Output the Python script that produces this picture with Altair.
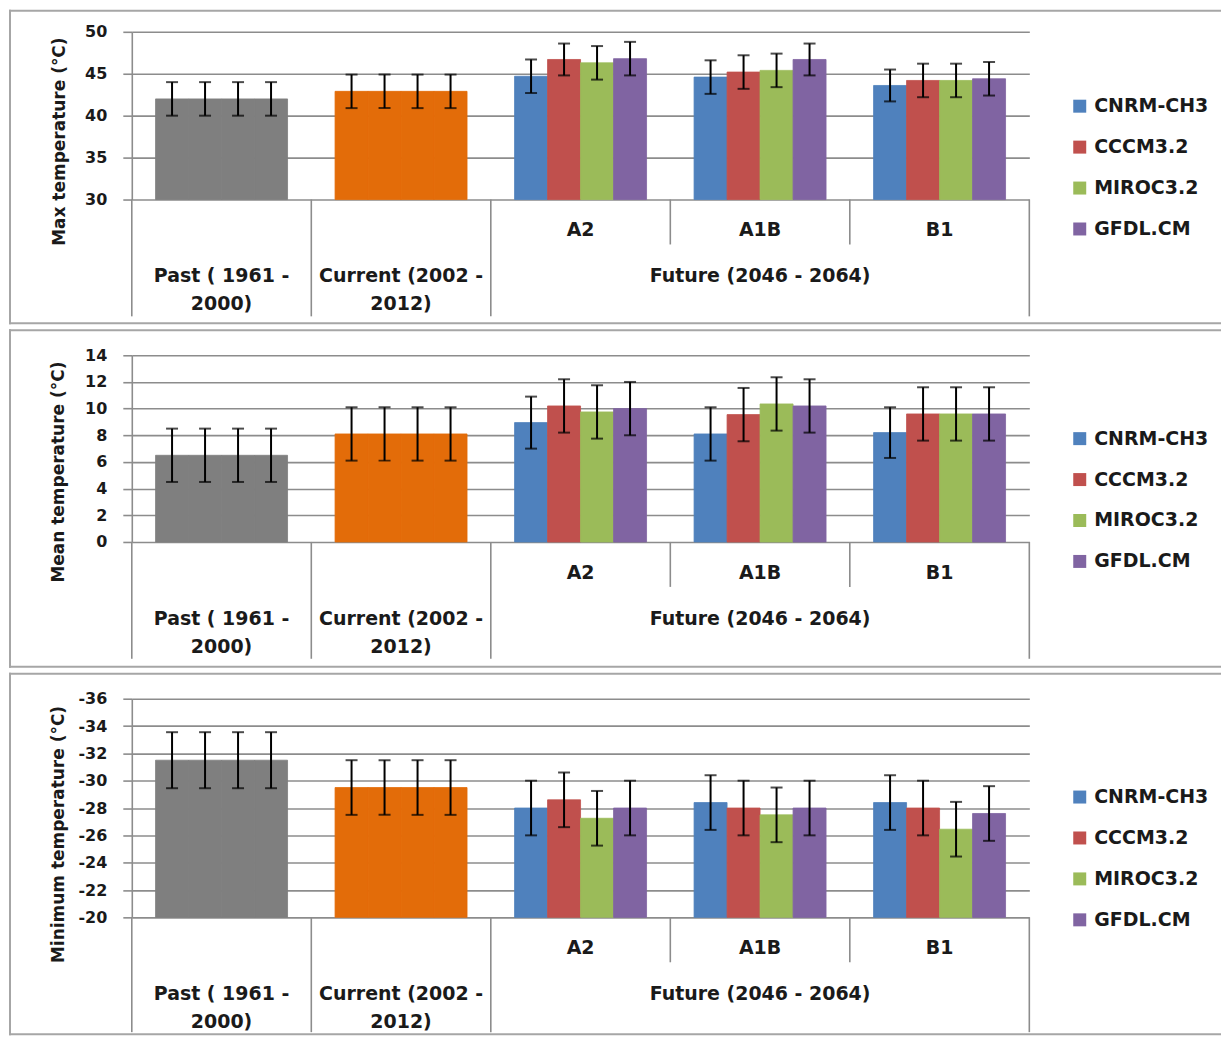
import altair as alt
import pandas as pd

groups = ["Past", "Current", "A2", "A1B", "B1"]
models = ["CNRM-CH3", "CCCM3.2", "MIROC3.2", "GFDL.CM"]
series_ids = ["s1", "s2", "s3", "s4"]

# Max temperature (values per group, 4 series each)
max_vals = {
    "Past": [42.0, 42.0, 42.0, 42.0],
    "Current": [42.9, 42.9, 42.9, 42.9],
    "A2": [44.7, 46.7, 46.3, 46.8],
    "A1B": [44.6, 45.2, 45.4, 46.7],
    "B1": [43.6, 44.2, 44.2, 44.4],
}
max_err = {
    "Past": [2.0, 2.0, 2.0, 2.0],
    "Current": [2.0, 2.0, 2.0, 2.0],
    "A2": [2.0, 1.9, 2.0, 2.0],
    "A1B": [2.0, 2.0, 2.0, 1.9],
    "B1": [1.9, 2.0, 2.0, 2.0],
}
# Mean temperature
mean_vals = {
    "Past": [6.5, 6.5, 6.5, 6.5],
    "Current": [8.1, 8.1, 8.1, 8.1],
    "A2": [8.95, 10.2, 9.75, 10.0],
    "A1B": [8.1, 9.55, 10.35, 10.2],
    "B1": [8.2, 9.6, 9.6, 9.6],
}
mean_err = {
    "Past": [2.0, 2.0, 2.0, 2.0],
    "Current": [2.0, 2.0, 2.0, 2.0],
    "A2": [1.95, 2.0, 2.0, 2.0],
    "A1B": [2.0, 2.0, 2.0, 2.0],
    "B1": [1.9, 2.0, 2.0, 2.0],
}
# Minimum temperature
min_vals = {
    "Past": [-31.5, -31.5, -31.5, -31.5],
    "Current": [-29.5, -29.5, -29.5, -29.5],
    "A2": [-28.0, -28.6, -27.25, -28.0],
    "A1B": [-28.4, -28.0, -27.5, -28.0],
    "B1": [-28.4, -28.0, -26.45, -27.6],
}
min_err = {
    "Past": [2.05, 2.05, 2.05, 2.05],
    "Current": [2.0, 2.0, 2.0, 2.0],
    "A2": [2.0, 2.0, 2.0, 2.0],
    "A1B": [2.0, 2.0, 2.0, 2.0],
    "B1": [2.0, 2.0, 2.0, 2.0],
}

max_ticks = [30, 35, 40, 45, 50]
mean_ticks = [0, 2, 4, 6, 8, 10, 12, 14]
min_ticks = [-36, -34, -32, -30, -28, -26, -24, -22, -20]

axis_titles = ["Max temperature (°C)", "Mean temperature (°C)", "Minimum temperature (°C)"]

upper_groups = ["A2", "A1B", "B1"]
upper_labels = ["A2", "A1B", "B1"]
lower_groups = ["Past", "Current", "A1B"]
lower_labels = ["Past ( 1961 -\n2000)", "Current (2002 -\n2012)", "Future (2046 - 2064)"]

color_domain = models + ["Past", "Current"]
color_range = ["#4F81BD", "#C0504D", "#9BBB59", "#8064A2", "#7F7F7F", "#E36C09"]

FONT = "DejaVu Sans"
TXT = "#1a1a1a"
GRID = "#8c8c8c"
FRAME = "#a6a6a6"


def build_df(vals, errs):
    rows = []
    for g in groups:
        for i, s in enumerate(series_ids):
            key = g if g in ("Past", "Current") else models[i]
            v = vals[g][i]
            e = errs[g][i]
            rows.append({"group": g, "series": s, "key": key, "value": v,
                         "lo": v - e, "hi": v + e})
    return pd.DataFrame(rows)


one = pd.DataFrame({"a": [0]})


def panel(vals, errs, base, domain, ticks, reverse, H, W, title, title_x, title_y,
          legend_x, legend_y, frame_top, frame_bottom, sep_len):
    df = build_df(vals, errs)
    xs = alt.Scale(domain=groups, paddingInner=0, paddingOuter=0)
    xo = alt.Scale(domain=series_ids, paddingInner=0, paddingOuter=0.72)
    ys = alt.Scale(domain=domain, reverse=reverse, nice=False, zero=False)
    yaxis = alt.Axis(values=ticks, title=None, grid=True, gridColor=GRID, gridWidth=1.6,
                     domainColor=GRID, domainWidth=1.6, tickColor=GRID, tickWidth=1.6,
                     tickSize=9, labelFont=FONT, labelFontSize=16, labelFontWeight="bold",
                     labelColor=TXT, labelPadding=16, labelExpr="'' + datum.value")
    cscale = alt.Scale(domain=color_domain, range=color_range)

    X = alt.X("group:N", scale=xs, axis=None)
    XO = alt.XOffset("series:N", scale=xo)

    bars = alt.Chart(df).mark_bar(strokeWidth=0.8).encode(
        x=X, xOffset=XO,
        y=alt.Y("value:Q", scale=ys, axis=yaxis),
        y2=alt.datum(base),
        color=alt.Color("key:N", scale=cscale,
                        legend=alt.Legend(title=None, orient="none", legendX=legend_x,
                                          legendY=legend_y, values=models,
                                          symbolType="square", symbolSize=169,
                                          symbolStrokeWidth=0, labelFont=FONT,
                                          labelFontSize=19, labelFontWeight="bold",
                                          labelColor=TXT, rowPadding=21,
                                          labelOffset=5, padding=0)),
        stroke=alt.Stroke("key:N", scale=cscale, legend=None),
    )
    err = alt.Chart(df).mark_rule(color="black", strokeWidth=2).encode(
        x=X, xOffset=XO, y=alt.Y("lo:Q", scale=ys, axis=yaxis), y2="hi:Q")
    cap_lo = alt.Chart(df).mark_tick(color="black", thickness=2, size=12,
                                     orient="horizontal").encode(
        x=X, xOffset=XO, y=alt.Y("lo:Q", scale=ys, axis=yaxis))
    cap_hi = alt.Chart(df).mark_tick(color="black", thickness=2, size=12,
                                     orient="horizontal").encode(
        x=X, xOffset=XO, y=alt.Y("hi:Q", scale=ys, axis=yaxis))

    sep_full = pd.DataFrame({"group": ["Past", "Current", "A2"]})
    sep_short = pd.DataFrame({"group": ["A1B", "B1"]})
    XS = alt.X("group:N", scale=xs, axis=None, bandPosition=0)
    r_full = alt.Chart(sep_full).mark_rule(color=GRID, strokeWidth=1.6).encode(
        x=XS, y=alt.value(H), y2=alt.value(H + sep_len))
    r_short = alt.Chart(sep_short).mark_rule(color=GRID, strokeWidth=1.6).encode(
        x=XS, y=alt.value(H), y2=alt.value(H + 45))
    r_end = alt.Chart(one).mark_rule(color=GRID, strokeWidth=1.6).encode(
        x=alt.value(W), y=alt.value(H), y2=alt.value(H + sep_len))

    up = pd.DataFrame({"group": upper_groups, "label": upper_labels})
    low = pd.DataFrame({"group": lower_groups, "label": lower_labels})
    XT = alt.X("group:N", scale=xs, axis=None)
    t_up = alt.Chart(up).mark_text(font=FONT, fontSize=19, fontWeight="bold", color=TXT,
                                   baseline="top", align="center").encode(
        x=XT, y=alt.value(H + 22), text="label:N")
    t_low = alt.Chart(low).mark_text(font=FONT, fontSize=19, fontWeight="bold", color=TXT,
                                     baseline="top", align="center", lineBreak="\n",
                                     lineHeight=28).encode(
        x=XT, y=alt.value(H + 68), text="label:N")

    tdf = pd.DataFrame({"t": [title]})
    t_title = alt.Chart(tdf).mark_text(font=FONT, fontSize=17, fontWeight="bold", color=TXT,
                                       angle=270, baseline="middle", align="center").encode(
        x=alt.value(title_x), y=alt.value(title_y), text="t:N")

    # panel frame drawn as thin filled rects (exact bounds)
    L, R = -123, 1091
    f_top = alt.Chart(one).mark_rect(color=FRAME).encode(
        x=alt.value(L), x2=alt.value(R), y=alt.value(frame_top), y2=alt.value(frame_top + 2))
    f_bot = alt.Chart(one).mark_rect(color=FRAME).encode(
        x=alt.value(L), x2=alt.value(R), y=alt.value(frame_bottom - 2),
        y2=alt.value(frame_bottom))
    f_left = alt.Chart(one).mark_rect(color=FRAME).encode(
        x=alt.value(L), x2=alt.value(L + 2), y=alt.value(frame_top),
        y2=alt.value(frame_bottom))

    return alt.layer(bars, err, cap_lo, cap_hi, r_full, r_short, r_end, t_up, t_low,
                     t_title, f_top, f_bot, f_left).properties(width=W, height=H)


p1 = panel(max_vals, max_err, 30, [30, 50], max_ticks, False, 168, 899, axis_titles[0],
           -72, 110, 940, 65, -22, 293, 117)
p2 = panel(mean_vals, mean_err, 0, [0, 14], mean_ticks, False, 187, 899, axis_titles[1],
           -73, 117, 940, 74, -26, 313, 117)
p3 = panel(min_vals, min_err, -20, [-36, -20], min_ticks, True, 219, 899, axis_titles[2],
           -73, 136, 940, 89, -26, 337, 115)

chart = alt.vconcat(p1, p2, p3, spacing=3).resolve_scale(
    color="independent", x="independent", y="independent", xOffset="independent"
).properties(padding=0).configure_view(stroke="transparent")

chart.save("out.html", embed_options={"renderer": "svg", "actions": False})
